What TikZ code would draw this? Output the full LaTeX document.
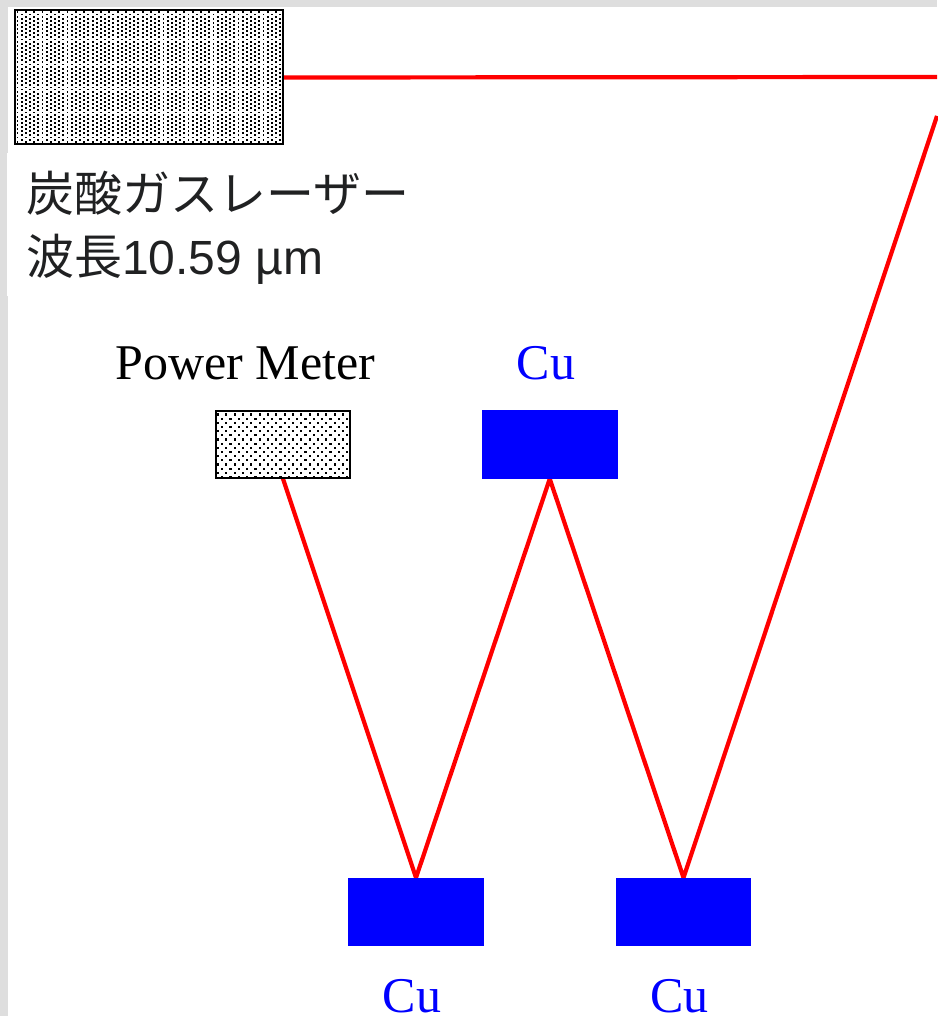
\documentclass[tikz,border=0pt]{standalone}
\usepackage{fontspec}
\usetikzlibrary{backgrounds}
\setmainfont{Liberation Serif}
\newfontfamily\labelsans{Liberation Sans}
\newfontfamily\cjk{Noto Sans CJK JP}
\definecolor{pagegrey}{HTML}{DEDEDE}
\definecolor{inkgrey}{HTML}{202122}
\tikzset{
  x=1pt,y=-1pt,
  beam/.style={draw=red,line width=4.2pt,line join=miter},
  mirror/.style={fill=blue,draw=none,minimum width=135.5pt,minimum height=68.5pt,inner sep=0pt,outer sep=0pt},
  framebox/.style={draw=black,line width=2pt,inner sep=0pt,outer sep=0pt},
  serifl/.style={font=\fontsize{50}{50}\selectfont,inner sep=0pt,anchor=base},
  cul/.style={serifl,text=blue},
  jpl/.style={inner sep=0pt,anchor=base west,text=inkgrey,font=\fontsize{48}{48}\selectfont}
}
\begin{document}
\begin{tikzpicture}
\useasboundingbox (0,0) rectangle (937,1016);
% page margins
\fill[pagegrey] (0,0) rectangle (937,7);
\fill[pagegrey] (0,0) rectangle (8,1016);
\fill[white] (7,153) rectangle (30,296);
% beam ends
\coordinate (free) at (937,116);
\coordinate (right) at (937,77);
\node[mirror] (m1) at (549.75,444.5) {};
\node[mirror] (m2) at (416,912) {};
\node[mirror] (m3) at (683.5,912) {};
\node[framebox,minimum width=268pt,minimum height=134pt] (laser) at (149,77.5) {};
\node[framebox,minimum width=134pt,minimum height=67pt] (pm) at (282.75,444.5) {};
% beams, under the mirrors
\begin{pgfonlayer}{background}
\draw[beam] (laser.east) -- (right);
\draw[beam] (free) -- (m3.north) -- (m1.south) -- (m2.north) -- (pm.south);
\end{pgfonlayer}
% laser fill
\begin{scope}
\clip (15,11) rectangle (283,144);
\foreach \c in {0,...,64}{
  \pgfmathsetmacro{\xx}{17.5+4.17*\c}
  \pgfmathsetmacro{\off}{mod(\c,2)*2.08}
  \foreach \r in {0,...,32}{
    \pgfmathsetmacro{\yy}{12.4+\off+4.17*\r}
    \fill[black] (\xx-0.95,\yy-0.95) rectangle (\xx+0.95,\yy+0.95);
  }
}
\end{scope}
\draw[framebox] (laser.north west) rectangle (laser.south east);
% power meter fill
\begin{scope}
\clip (216,412) rectangle (349.5,477.5);
\foreach \r in {0,...,16}{
  \pgfmathsetmacro{\yy}{414.5+4.17*\r}
  \pgfmathsetmacro{\off}{mod(\r,2)*4.17}
  \foreach \c in {0,...,16}{
    \pgfmathsetmacro{\xx}{218+\off+8.33*\c}
    \fill[black] (\xx-1.1,\yy-1.1) rectangle (\xx+1.1,\yy+1.1);
  }
}
\end{scope}
\draw[framebox] (pm.north west) rectangle (pm.south east);
% labels
\node[jpl] (t1) at (26,212) {\cjk 炭酸ガスレーザー};
\node[jpl] (t2) at (26,274) {\cjk 波長\labelsans 10.59 µm};
\node[serifl] (lpm) at (245.5,379) {Power Meter};
\node[cul] (l1) at (546,379) {Cu};
\node[cul] (l2) at (412,1012.5) {Cu};
\node[cul] (l3) at (679.5,1012.5) {Cu};
\end{tikzpicture}
\end{document}
